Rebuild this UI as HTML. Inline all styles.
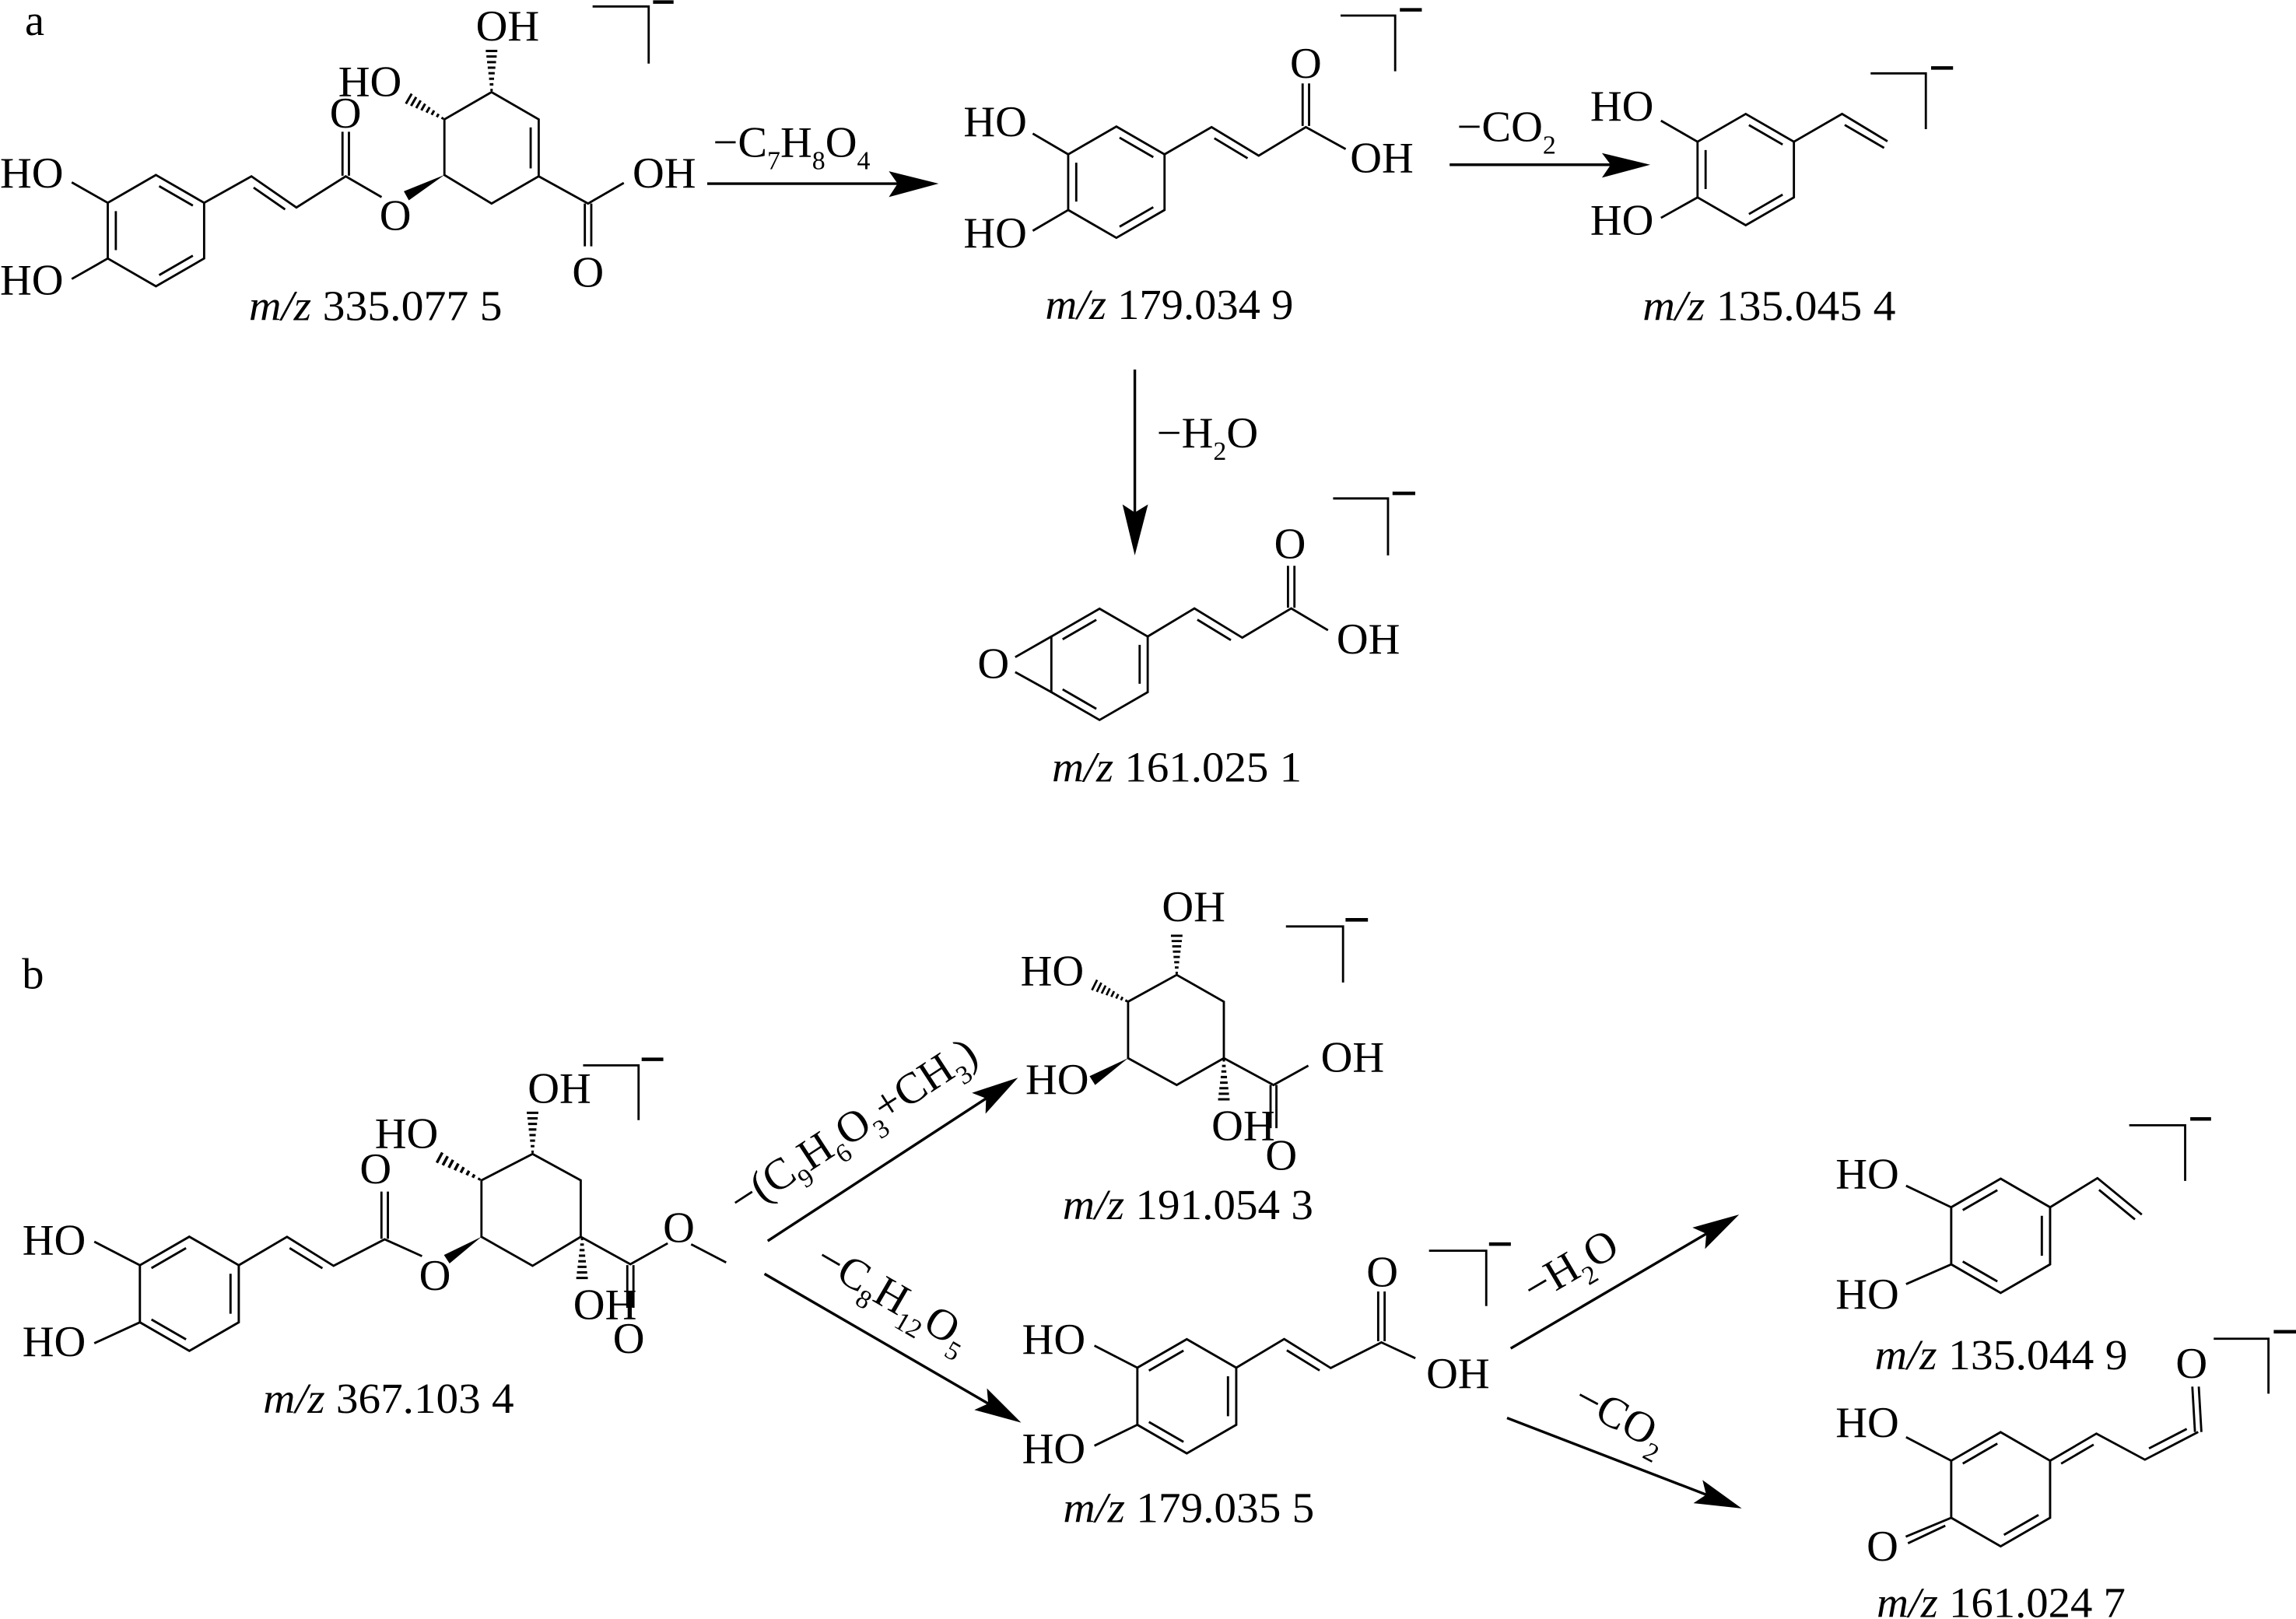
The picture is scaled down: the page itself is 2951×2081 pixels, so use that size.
<!DOCTYPE html>
<html>
<head>
<meta charset="utf-8">
<style>
html,body{margin:0;padding:0;background:#fff;}
svg{display:block;}
text{font-family:"Liberation Serif","Times New Roman",serif;fill:#000;font-size:30px;stroke:none;}
.s{font-size:18px;}
.mz{font-size:29px;}
</style>
</head>
<body>
<svg width="2951" height="2081" viewBox="0 0 1568 1105.7" xmlns="http://www.w3.org/2000/svg" xmlns:xlink="http://www.w3.org/1999/xlink">
<defs>
  <path id="hash" d="M1.5,-0.8V0.8M5.3,-1.25V1.25M9.1,-1.7V1.7M12.9,-2.15V2.15M16.7,-2.6V2.6M20.5,-3.05V3.05M24.3,-3.5V3.5M28.1,-3.95V3.95" fill="none" stroke="#000" stroke-width="1.6"/>
  <path id="hex" d="M0,-38L32.9,-19L32.9,19L0,38L-32.9,19L-32.9,-19Z"/>
  <path id="patA" d="M2.19,-30.39L25.21,-17.09M-27.4,-13.3V13.3M25.21,17.09L2.19,30.39"/>
  <path id="patB" d="M-2.19,-30.39L-25.21,-17.09M27.4,-13.3V13.3M-25.21,17.09L-2.19,30.39"/>
  <path id="patQ" d="M-2.19,-30.39L-25.21,-17.09M25.21,17.09L2.19,30.39"/>
</defs>

<rect x="0" y="0" width="1568" height="1105.7" fill="#fff"/>

<g fill="none" stroke="#000" stroke-width="1.5" stroke-linejoin="miter">

<!-- ================= PART A ================= -->
<!-- A1 catechol ring -->
<g transform="translate(106.5,157.5)"><use xlink:href="#hex"/><use xlink:href="#patA"/></g>
<path d="M73.6,138.5L49,124.5M73.6,176.5L49,190.5"/>
<path d="M139.4,138.5L171.7,120.4L202.4,141.7L236.1,120.4L260.6,134.6"/>
<path d="M173.2,128.1L194.7,143"/>
<path d="M233.9,120V90M238.3,120V90"/>
<!-- cyclohexene -->
<path d="M303.5,119.5L303.5,81.5L335.7,62.9L367.9,81.5L367.9,120.4L335.7,139Z"/>
<path d="M362.4,87V115"/>
<path d="M367.9,120.4L401.6,139L426,124.9M399.4,139V168.2M403.8,139V168.2"/>
<polygon points="303.5,119.5 279.2,136.8 275.8,130.6" fill="#000" stroke="none"/>
<use xlink:href="#hash" transform="translate(303.5,81.5) rotate(-149.9)"/>
<use xlink:href="#hash" transform="translate(335.7,62.9) rotate(-90)"/>
<path d="M404.7,4.4H443V43.4"/>
<path d="M446,1.4H460" stroke-width="2.4"/>

<!-- arrow A1 -> A2 -->
<path d="M483,125.4H613" stroke-width="1.8"/>
<path d="M641,125.4L607,116.9L613,125.4L607,134.6Z" fill="#000" stroke="none"/>

<!-- A2 caffeic -->
<g transform="translate(762.4,124.4)"><use xlink:href="#hex"/><use xlink:href="#patA"/></g>
<path d="M729.5,105.4L705.3,91.2M729.5,143.4L705.3,157.6"/>
<path d="M795.3,105.4L827.4,86.8L859.6,106.3L891.8,86.8L919,101.8"/>
<path d="M829.3,94.4L852,108.1"/>
<path d="M889.6,86V57M894,86V57"/>
<path d="M915.5,10.6H952.8V48.7"/>
<path d="M956,6.7H971" stroke-width="2.4"/>

<!-- arrow A2 -> A3 -->
<path d="M990,112.5H1100" stroke-width="1.8"/>
<path d="M1127,112.5L1094,104.5L1100,112.5L1094,121.3Z" fill="#000" stroke="none"/>

<!-- A3 vinyl catechol -->
<g transform="translate(1192.2,115.8)"><use xlink:href="#hex"/><use xlink:href="#patA"/></g>
<path d="M1159.3,96.8L1134.3,82.4M1159.3,134.8L1134.3,148.8"/>
<path d="M1225.1,96.8L1258,77.8L1289,96.5"/>
<path d="M1259.8,85.3L1286.7,101"/>
<path d="M1277.5,50.1H1315.2V88.2"/>
<path d="M1318.8,46.4H1333.8" stroke-width="2.4"/>

<!-- vertical arrow A2 -> A4 -->
<path d="M775,252.4V350" stroke-width="1.8"/>
<path d="M775,379.3L766.6,344.5L775,350L784,344.5Z" fill="#000" stroke="none"/>

<!-- A4 epoxide -->
<g transform="translate(750.9,453.7)"><use xlink:href="#hex"/><use xlink:href="#patB"/></g>
<path d="M718,434.7L693.3,448.8M718,472.7L693.3,459"/>
<path d="M783.8,434.7L815.7,415.5L848.4,435.5L881.8,415.5L906.9,430.4"/>
<path d="M817.7,423.2L840.6,437.2"/>
<path d="M879.6,415V386.4M884,415V386.4"/>
<path d="M910.4,340.4H947.9V379.3"/>
<path d="M951,336.9H966.5" stroke-width="2.4"/>

<!-- ================= PART B ================= -->
<!-- B1 catechol -->
<g transform="translate(129.3,883.6) scale(1.0263)"><use xlink:href="#hex"/><use xlink:href="#patB"/></g>
<path d="M95.5,864.1L64.4,848M95.5,903.1L64.4,917.4"/>
<path d="M163.1,864.1L196,844.7L227.8,864.5L262.7,846.4L288.2,857.9"/>
<path d="M197.8,852.4L220.2,866.2"/>
<path d="M260.5,846V813.8M264.9,846V813.8"/>
<polygon points="328.8,844.7 307,862.9 303.2,857.1" fill="#000" stroke="none"/>
<path d="M328.8,844.7L328.8,806.1L363.7,788.1L396.6,806.1L396.6,844.7L363.7,864.5Z"/>
<path d="M396.6,844.7L430.5,863.4L456,849.1M428.4,864V893.2M432.6,864V893.2"/>
<path d="M430.5,882V893" stroke-width="4"/>
<path d="M472,849.8L495.9,862.2"/>
<use xlink:href="#hash" transform="translate(328.8,806.1) rotate(-151.6) scale(1.157,1)"/>
<use xlink:href="#hash" transform="translate(363.7,788.1) rotate(-90)"/>
<use xlink:href="#hash" transform="translate(397.5,844.7) rotate(90)"/>
<path d="M398.2,727.6H436.1V765"/>
<path d="M438.2,723.5H453" stroke-width="2.4"/>

<!-- arrows from B1 -->
<path d="M524.3,847.5L673.4,750.2" stroke-width="1.8"/>
<path d="M695.2,736L673.05,760.6L673.4,750.2L663.75,746.4Z" fill="#000" stroke="none"/>
<path d="M522.1,870L674.9,958.6" stroke-width="1.8"/>
<path d="M697.4,971.6L665.4,962.9L674.9,958.6L674,948.2Z" fill="#000" stroke="none"/>

<!-- B2 quinic acid -->
<path d="M770.4,722.7L770.4,684.1L803.6,665.8L835.8,684.1L835.8,722.7L803.6,741Z"/>
<use xlink:href="#hash" transform="translate(803.6,665.8) rotate(-90) scale(0.95,1)"/>
<use xlink:href="#hash" transform="translate(770.4,684.1) rotate(-153.6) scale(0.91,1)"/>
<use xlink:href="#hash" transform="translate(835.8,722.7) rotate(90)"/>
<polygon points="770.4,722.7 747.9,741 744.1,735" fill="#000" stroke="none"/>
<path d="M835.8,722.7L869.7,741L893.5,727.8M867.7,741V770.5M871.7,741V770.5"/>
<path d="M878.2,632.7H917.2V671"/>
<path d="M918.9,628.2H934.2" stroke-width="2.4"/>

<!-- B3 caffeic -->
<g transform="translate(810.5,953.6) scale(1.0263)"><use xlink:href="#hex"/><use xlink:href="#patB"/></g>
<path d="M776.7,934.1L747.4,919M776.7,973.1L747.4,987.4"/>
<path d="M844.3,934.1L877,914.5L908.8,934.3L943.4,916.8L966.6,927.6"/>
<path d="M878.8,922.2L901.2,936"/>
<path d="M941.2,916V882M945.6,916V882"/>
<path d="M975.9,854.2H1015V892"/>
<path d="M1016.9,849.7H1031.8" stroke-width="2.4"/>

<!-- arrows from B3 -->
<path d="M1031.7,920.9L1165.3,842.6" stroke-width="1.8"/>
<path d="M1187.7,829.5L1164.4,853L1165.3,842.6L1155.8,838.4Z" fill="#000" stroke="none"/>
<path d="M1029.2,968.4L1165.2,1020.8" stroke-width="1.8"/>
<path d="M1189.5,1030.2L1156.5,1026.6L1165.2,1020.8L1162.7,1010.8Z" fill="#000" stroke="none"/>

<!-- B4 vinyl catechol -->
<g transform="translate(1366.3,844) scale(1.0263)"><use xlink:href="#hex"/><use xlink:href="#patB"/></g>
<path d="M1332.5,824.5L1301.7,809.8M1332.5,863.5L1301.7,877"/>
<path d="M1400.1,824.5L1432.4,804.6L1462.7,829.5"/>
<path d="M1433.5,812.6L1458,832.8"/>
<path d="M1454.1,768.5H1492.3V806.5"/>
<path d="M1495.8,764.2H1510" stroke-width="2.4"/>

<!-- B5 quinone methide -->
<g transform="translate(1366.3,1017.1) scale(1.0263)"><use xlink:href="#hex"/><use xlink:href="#patQ"/></g>
<path d="M1332.5,997.6L1301.7,981.5"/>
<path d="M1400.1,997.6L1431.7,979.1L1464.8,996.9L1501.2,978"/>
<path d="M1407.6,999.6L1429.8,986.6M1467.6,989.2L1493.4,975.9"/>
<path d="M1499,978L1497.2,947M1503.4,978L1501.6,947"/>
<path d="M1332.5,1036.6L1301.5,1049.5M1328.5,1042L1303,1054"/>
<path d="M1511.8,914.3H1549.2V951.8"/>
<path d="M1552.8,909.5H1568" stroke-width="2.4"/>
</g>

<!-- ================= TEXT ================= -->
<!-- Part A -->
<text x="17" y="24">a</text>
<text x="0" y="128">HO</text>
<text x="0" y="201">HO</text>
<text x="236" y="87" text-anchor="middle">O</text>
<text x="270" y="157" text-anchor="middle">O</text>
<text x="231" y="65.5">HO</text>
<text x="325" y="27.5">OH</text>
<text x="432" y="128">OH</text>
<text x="401.6" y="195.7" text-anchor="middle">O</text>
<text class="mz" x="170" y="218.7" textLength="173" lengthAdjust="spacingAndGlyphs"><tspan font-style="italic">m/z</tspan> 335.077 5</text>

<text x="487" y="107">−C<tspan class="s" dy="8.5">7</tspan><tspan dy="-8.5">H</tspan><tspan class="s" dy="8.5">8</tspan><tspan dy="-8.5">O</tspan><tspan class="s" dy="8.5">4</tspan></text>

<text x="658" y="93">HO</text>
<text x="658" y="169">HO</text>
<text x="891.8" y="53" text-anchor="middle">O</text>
<text x="922" y="117.8">OH</text>
<text class="mz" x="713.8" y="217.8" textLength="169.5" lengthAdjust="spacingAndGlyphs"><tspan font-style="italic">m/z</tspan> 179.034 9</text>

<text x="995" y="96.5">−CO<tspan class="s" dy="8.5">2</tspan></text>

<text x="1086" y="82.4">HO</text>
<text x="1086" y="160.3">HO</text>
<text class="mz" x="1121.8" y="218.7" textLength="172.8" lengthAdjust="spacingAndGlyphs"><tspan font-style="italic">m/z</tspan> 135.045 4</text>

<text x="790" y="305.6">−H<tspan class="s" dy="8.5">2</tspan><tspan dy="-8.5">O</tspan></text>

<text x="678.4" y="463.1" text-anchor="middle">O</text>
<text x="881" y="381.3" text-anchor="middle">O</text>
<text x="912.8" y="446.2">OH</text>
<text class="mz" x="718.4" y="533.7" textLength="170.6" lengthAdjust="spacingAndGlyphs"><tspan font-style="italic">m/z</tspan> 161.025 1</text>

<!-- Part B -->
<text x="15" y="675">b</text>
<text x="15.3" y="856.8">HO</text>
<text x="15.3" y="926.2">HO</text>
<text x="256.5" y="808.3" text-anchor="middle">O</text>
<text x="297" y="881" text-anchor="middle">O</text>
<text x="256" y="784">HO</text>
<text x="360.4" y="753.3">OH</text>
<text x="391.5" y="900.9">OH</text>
<text x="429.4" y="924" text-anchor="middle">O</text>
<text x="463.6" y="848.4" text-anchor="middle">O</text>
<text class="mz" x="179.7" y="964.8" textLength="171.3" lengthAdjust="spacingAndGlyphs"><tspan font-style="italic">m/z</tspan> 367.103 4</text>

<text transform="translate(506.2,830.7) rotate(-33.1)">−(C<tspan class="s" dy="8">9</tspan><tspan dy="-8">H</tspan><tspan class="s" dy="8">6</tspan><tspan dy="-8">O</tspan><tspan class="s" dy="8">3</tspan><tspan dy="-8">+CH</tspan><tspan class="s" dy="8">3</tspan><tspan dy="-8">)</tspan></text>
<text transform="translate(555.1,864.8) rotate(30.1)">−C<tspan class="s" dy="8">8</tspan><tspan dy="-8">H</tspan><tspan class="s" dy="8">12</tspan><tspan dy="-8">O</tspan><tspan class="s" dy="8">5</tspan></text>

<text x="793.5" y="629.2">OH</text>
<text x="696.9" y="673">HO</text>
<text x="700.3" y="747.1">HO</text>
<text x="827.4" y="778.7">OH</text>
<text x="902" y="731.9">OH</text>
<text x="875" y="799" text-anchor="middle">O</text>
<text class="mz" x="725.7" y="832.5" textLength="171.2" lengthAdjust="spacingAndGlyphs"><tspan font-style="italic">m/z</tspan> 191.054 3</text>

<text x="698" y="924.4">HO</text>
<text x="698" y="999.1">HO</text>
<text x="944" y="878.5" text-anchor="middle">O</text>
<text x="974" y="947.8">OH</text>
<text class="mz" x="726" y="1039.6" textLength="171.6" lengthAdjust="spacingAndGlyphs"><tspan font-style="italic">m/z</tspan> 179.035 5</text>

<text transform="translate(1047.6,890.7) rotate(-30.4)">−H<tspan class="s" dy="8">2</tspan><tspan dy="-8">O</tspan></text>
<text transform="translate(1072.9,960.5) rotate(28)">−CO<tspan class="s" dy="8">2</tspan></text>

<text x="1253.6" y="811.7">HO</text>
<text x="1253.6" y="893.6">HO</text>
<text class="mz" x="1280.3" y="935.2" textLength="172.7" lengthAdjust="spacingAndGlyphs"><tspan font-style="italic">m/z</tspan> 135.044 9</text>

<text x="1253.6" y="981.5">HO</text>
<text x="1285.6" y="1066" text-anchor="middle">O</text>
<text x="1496.7" y="941" text-anchor="middle">O</text>
<text class="mz" x="1281.6" y="1104.5" textLength="170" lengthAdjust="spacingAndGlyphs"><tspan font-style="italic">m/z</tspan> 161.024 7</text>
</svg>
</body>
</html>
